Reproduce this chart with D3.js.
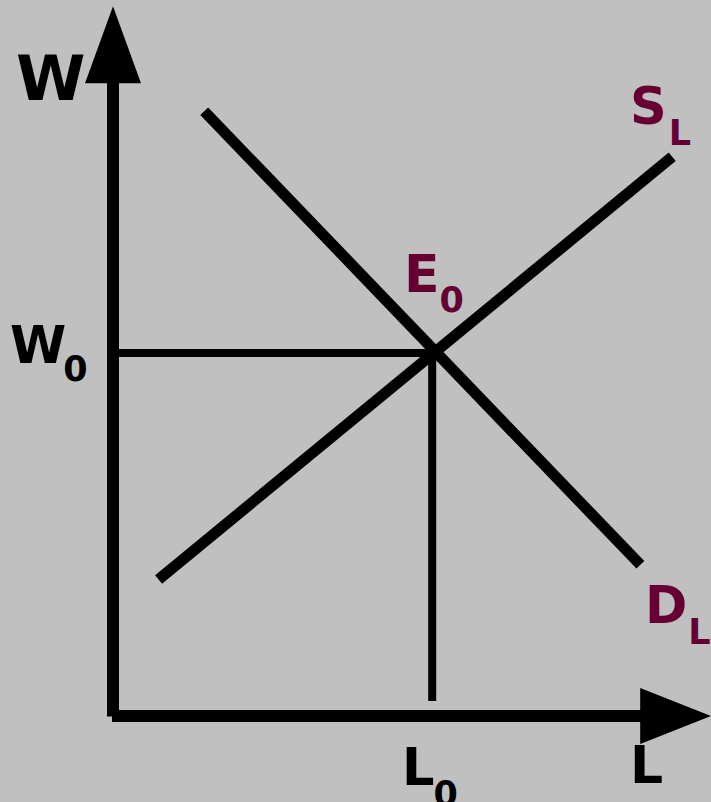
<!DOCTYPE html>
<html>
<head>
<meta charset="utf-8">
<script src="https://cdn.jsdelivr.net/npm/d3@7"></script>
<style>
  html, body { margin: 0; padding: 0; background: #c0c0c0; }
  svg { display: block; }
  text { font-family: "DejaVu Sans", sans-serif; font-weight: bold; }
</style>
</head>
<body>
<svg width="711" height="802"></svg>
<script>
// labour market: supply and demand lines (L, W in chart units)
const demandL = [15.2, 87.9];
const demandW = [100.8, 25.2];
const supplyL = [7.6, 93.2];
const supplyW = [22.75, 93.2];
const eqL = 53.2;
const eqW = 60.5;
const axisLMax = 99.7;
const axisWMax = 118.3;

const svg = d3.select('svg');
const purple = '#660033';

svg.append('rect')
  .attr('width', 711)
  .attr('height', 802)
  .attr('fill', '#c0c0c0');

const x = d3.scaleLinear().domain([0, 100]).range([113, 713]);
const y = d3.scaleLinear().domain([0, 100]).range([716, 116]);

const line = d3.line()
  .x(d => x(d[0]))
  .y(d => y(d[1]));

// axes
const headX = 71, headY = 77, halfW = 28;
svg.append('line')
  .attr('x1', x(0)).attr('y1', y(0) + 0.5)
  .attr('x2', x(0)).attr('y2', y(axisWMax) + headY - 2)
  .attr('stroke', '#000').attr('stroke-width', 12);
svg.append('path')
  .attr('d', `M${x(0)},${y(axisWMax)} L${x(0) + halfW},${y(axisWMax) + headY} L${x(0) - halfW},${y(axisWMax) + headY} Z`)
  .attr('fill', '#000');

svg.append('line')
  .attr('x1', x(0) - 1).attr('y1', y(0))
  .attr('x2', x(axisLMax) - headX + 2).attr('y2', y(0))
  .attr('stroke', '#000').attr('stroke-width', 12);
svg.append('path')
  .attr('d', `M${x(axisLMax)},${y(0)} L${x(axisLMax) - headX},${y(0) - halfW} L${x(axisLMax) - headX},${y(0) + halfW} Z`)
  .attr('fill', '#000');

// guide lines to the equilibrium
svg.append('path')
  .attr('d', line([[0, eqW], [eqL, eqW]]))
  .attr('stroke', '#000').attr('stroke-width', 8).attr('fill', 'none');
svg.append('path')
  .attr('d', line([[eqL, eqW], [eqL, 2.5]]))
  .attr('stroke', '#000').attr('stroke-width', 8).attr('fill', 'none');

// demand and supply
svg.append('path')
  .attr('d', line(d3.zip(demandL, demandW)))
  .attr('stroke', '#000').attr('stroke-width', 11).attr('fill', 'none');
svg.append('path')
  .attr('d', line(d3.zip(supplyL, supplyW)))
  .attr('stroke', '#000').attr('stroke-width', 11).attr('fill', 'none');

// labels
function label(px, py, main, sub, color, size, subDy, subDx) {
  const t = svg.append('text')
    .attr('x', px)
    .attr('y', py)
    .attr('fill', color)
    .style('font-size', size + 'px');
  t.append('tspan').text(main);
  if (sub) {
    t.append('tspan')
      .attr('dy', subDy)
      .attr('dx', subDx || 0)
      .style('font-size', '35px')
      .text(sub);
  }
}

label(16, 100, 'W', null, '#000', 63);
label(10, 363, 'W', '0', '#000', 51, 18, -3);
label(404, 292, 'E', '0', purple, 52, 20);
label(402, 785, 'L', '0', '#000', 51, 21, -1);
label(630, 783, 'L', null, '#000', 52);
label(630, 124, 'S', 'L', purple, 51, 21, 2);
label(645, 623, 'D', 'L', purple, 51, 21, 1);
</script>
</body>
</html>
